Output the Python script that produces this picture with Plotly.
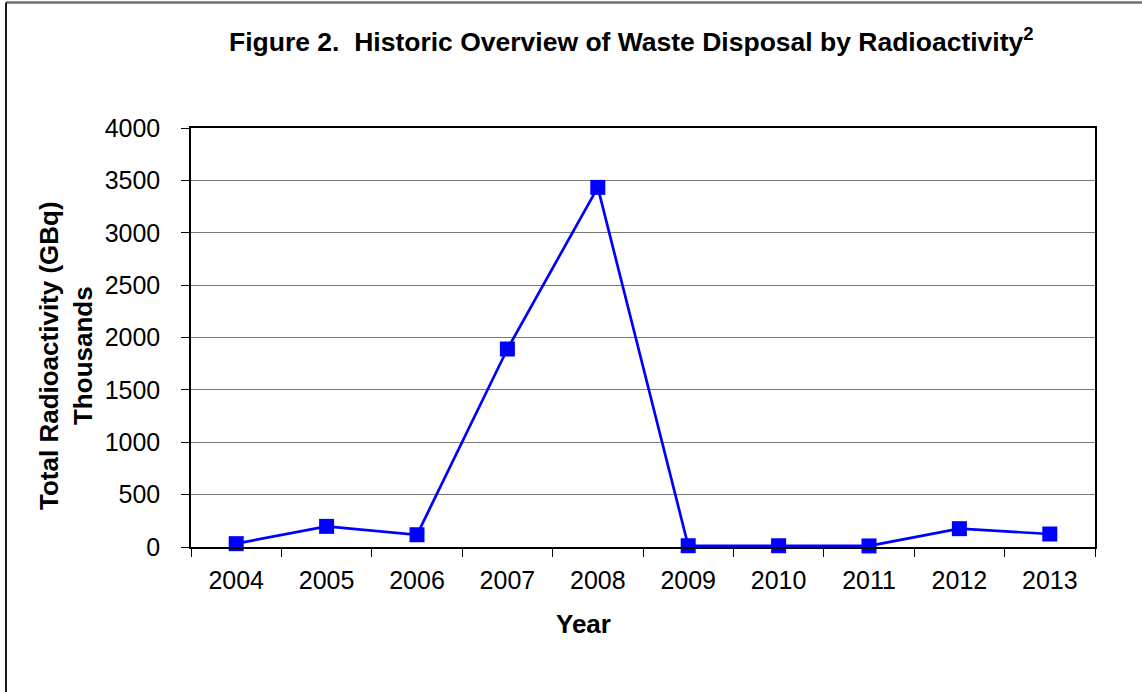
import plotly.graph_objects as go

# Annual totals, thousands of GBq
years = ["2004", "2005", "2006", "2007", "2008", "2009", "2010", "2011", "2012", "2013"]
activity = [32, 197, 117, 1890, 3433, 12, 12, 10, 175, 124]
y_ticks = [0, 500, 1000, 1500, 2000, 2500, 3000, 3500, 4000]

W, H = 1142, 692
L, R, T, B = 191, 47, 128, 145
pw = W - L - R
ph = H - T - B


def px_x(x):
    return (x - L) / pw


def px_y(y):
    return (H - B - y) / ph


fig = go.Figure()
fig.add_trace(go.Scatter(
    x=years, y=activity, mode="lines+markers",
    line=dict(color="#0000FF", width=2.7),
    marker=dict(symbol="square", size=15, color="#0000FF"),
    showlegend=False, cliponaxis=False,
))

font = "Arial, Liberation Sans, sans-serif"

fig.update_layout(
    width=W, height=H,
    margin=dict(l=L, r=R, t=T, b=B),
    paper_bgcolor="white", plot_bgcolor="white",
    font=dict(family=font, color="black"),
    xaxis=dict(
        type="category", range=[-0.5, len(years) - 0.5],
        tickson="boundaries", ticks="outside", ticklen=8,
        tickcolor="black", tickwidth=1, showgrid=False,
        showline=True, linecolor="black", linewidth=1.5, mirror=True,
        tickfont=dict(size=25, family=font), ticklabelstandoff=10,
    ),
    yaxis=dict(
        range=[0, 4000], tickvals=y_ticks, ticks="outside", ticklen=8,
        tickcolor="black", tickwidth=1,
        showgrid=True, gridcolor="#7a7a7a", gridwidth=1.2,
        showline=True, linecolor="black", linewidth=1.5, mirror=True,
        zeroline=False,
        tickfont=dict(size=25, family=font), ticklabelstandoff=16,
    ),
    annotations=[
        dict(text="<b>Figure 2.  Historic Overview of Waste Disposal by Radioactivity<sup>2</sup></b>",
             x=px_x(631), y=px_y(40), xref="paper", yref="paper",
             xanchor="center", yanchor="middle", showarrow=False,
             font=dict(size=26.5, family=font)),
        dict(text="<b>Year</b>",
             x=px_x(583), y=px_y(624), xref="paper", yref="paper",
             xanchor="center", yanchor="middle", showarrow=False,
             font=dict(size=26, family=font)),
        dict(text="<b>Total Radioactivity (GBq)<br>Thousands</b>",
             x=px_x(66), y=px_y(356), xref="paper", yref="paper",
             xanchor="center", yanchor="middle", showarrow=False,
             textangle=-90, font=dict(size=26, family=font)),
    ],
    shapes=[
        dict(type="line", xref="paper", yref="paper",
             x0=px_x(6), x1=px_x(W + 10), y0=px_y(2.5), y1=px_y(2.5),
             line=dict(color="#6e6e6e", width=2.5)),
        dict(type="line", xref="paper", yref="paper",
             x0=px_x(6), x1=px_x(6), y0=px_y(2.5), y1=px_y(H + 10),
             line=dict(color="#1a1a1a", width=2)),
    ],
)

fig.write_html("out.html")
